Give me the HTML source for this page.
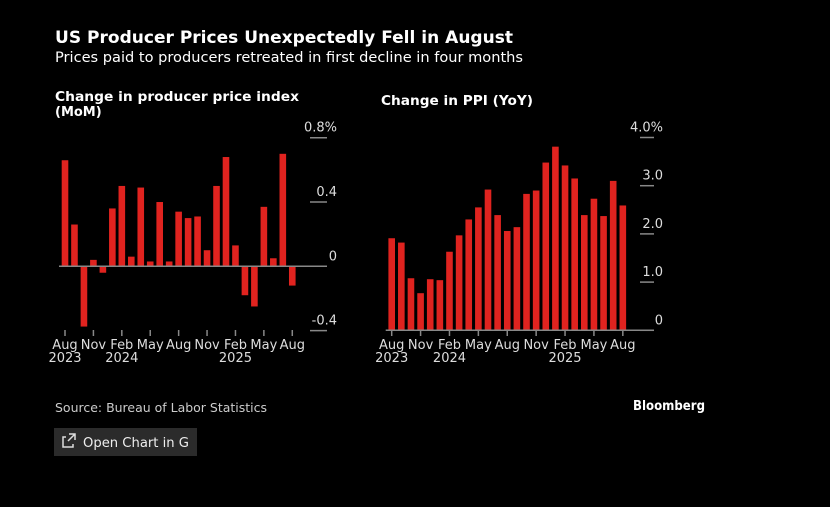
<!DOCTYPE html>
<html><head><meta charset="utf-8"><style>
html,body{margin:0;padding:0;background:#000;}
svg{display:block;font-family:"DejaVu Sans","Liberation Sans",sans-serif;}
</style></head><body>
<svg id="c" width="830" height="507" viewBox="0 0 830 507">
<text x="55" y="43" fill="#fff" font-weight="bold" font-size="17" textLength="458" lengthAdjust="spacingAndGlyphs">US Producer Prices Unexpectedly Fell in August</text>
<text x="55" y="62" fill="#fff" font-size="14" textLength="468" lengthAdjust="spacingAndGlyphs">Prices paid to producers retreated in first decline in four months</text>
<text x="55" y="101" fill="#fff" font-weight="bold" font-size="13" textLength="244" lengthAdjust="spacingAndGlyphs">Change in producer price index</text>
<text x="55" y="116" fill="#fff" font-weight="bold" font-size="13">(MoM)</text>
<text x="381" y="105" fill="#fff" font-weight="bold" font-size="13" textLength="152" lengthAdjust="spacingAndGlyphs">Change in PPI (YoY)</text>
<g id="left"></g>
<g id="right"></g>
<text x="55" y="412" fill="#ccc" font-size="12.5" textLength="212" lengthAdjust="spacingAndGlyphs">Source: Bureau of Labor Statistics</text>
<text x="633" y="410" fill="#fff" font-weight="bold" font-size="13" textLength="72" lengthAdjust="spacingAndGlyphs">Bloomberg</text>
<g>
<rect x="54" y="428" width="143" height="28" fill="#2b2b2b"/>
<path d="M66 437h-3v10h10v-3M69 434h6v6M75 434l-7 7" stroke="#ddd" stroke-width="1.5" fill="none"/>
<text x="83" y="447" fill="#eee" font-size="13" textLength="106" lengthAdjust="spacingAndGlyphs">Open Chart in G</text>
</g>
</svg>
<script>
const months = ["Aug","Sep","Oct","Nov","Dec","Jan","Feb","Mar","Apr","May","Jun","Jul","Aug","Sep","Oct","Nov","Dec","Jan","Feb","Mar","Apr","May","Jun","Jul","Aug"];
const xTickLabels = ["Aug","Nov","Feb","May","Aug","Nov","Feb","May","Aug"];
const yearLabels = ["2023","2024","2025"];
const momValues = [0.66,0.26,-0.375,0.04,-0.04,0.36,0.50,0.06,0.49,0.03,0.40,0.03,0.34,0.30,0.31,0.10,0.50,0.68,0.13,-0.18,-0.25,0.37,0.05,0.70,-0.12];
const yoyValues = [1.91,1.82,1.08,0.77,1.06,1.04,1.63,1.97,2.30,2.55,2.92,2.39,2.06,2.14,2.83,2.90,3.48,3.81,3.42,3.15,2.39,2.73,2.37,3.10,2.59];
const momTicks = [0.8,0.4,0,-0.4];
const momTickLabels = ["0.8%","0.4","0","-0.4"];
const yoyTicks = [4,3,2,1,0];
const yoyTickLabels = ["4.0%","3.0","2.0","1.0","0"];
const NS="http://www.w3.org/2000/svg";
function mk(parent,tag,attrs){const e=document.createElementNS(NS,tag);for(const k in attrs)e.setAttribute(k,attrs[k]);parent.appendChild(e);return e;}
function draw(g,vals,ticks,tickLabels,o){
  const y=v=>o.y0-(v-o.v0)*o.ppu;
  const x=i=>o.x0+i*o.pitch;
  ticks.forEach((t,i)=>{
    const l=mk(g,"line",{x1:o.gx1,x2:o.gx2,y1:y(t),y2:y(t),stroke:"#888","stroke-width":1.5});
    
    
    const tx=mk(g,"text",{x:o.lx,y:y(t)-6,fill:"#ddd","font-size":13,"text-anchor":"end"});
    tx.textContent=tickLabels[i];
    
    
  });
  vals.forEach((v,i)=>{
    const a=y(v),b=y(o.base);
    const r=mk(g,"rect",{x:x(i)-3.3,y:Math.min(a,b),width:6.6,height:Math.abs(a-b),fill:"#e0231f"});
    
    
  });
  const ax=mk(g,"line",{x1:o.x0-6,x2:o.gx2,y1:y(o.base),y2:y(o.base),stroke:"#888","stroke-width":1.5});
  
  
  xTickLabels.forEach((m,j)=>{
    const xi=x(j*3);
    const tk=mk(g,"line",{x1:xi,x2:xi,y1:o.ty,y2:o.ty+6,stroke:"#888","stroke-width":1.5});
    
    
    const t=mk(g,"text",{x:xi,y:o.ty+19,fill:"#ddd","font-size":13,"text-anchor":"middle"});
    t.textContent=m;
    
    
  });
  yearLabels.forEach((yl,j)=>{
    const t=mk(g,"text",{x:x(j===0?0:(j===1?6:18)),y:o.ty+32,fill:"#ddd","font-size":13,"text-anchor":"middle"});
    t.textContent=yl;
    
    
  });
}
draw(document.getElementById('left'),momValues,momTicks,momTickLabels,{y0:266.3,v0:0,ppu:160.7,x0:65,pitch:9.47,gx1:310,gx2:327,lx:337,base:0,ty:330});
draw(document.getElementById('right'),yoyValues,yoyTicks,yoyTickLabels,{y0:330.3,v0:0,ppu:48.2,x0:391.7,pitch:9.63,gx1:640,gx2:654,lx:663,base:0,ty:330});
</script>
</body></html>
